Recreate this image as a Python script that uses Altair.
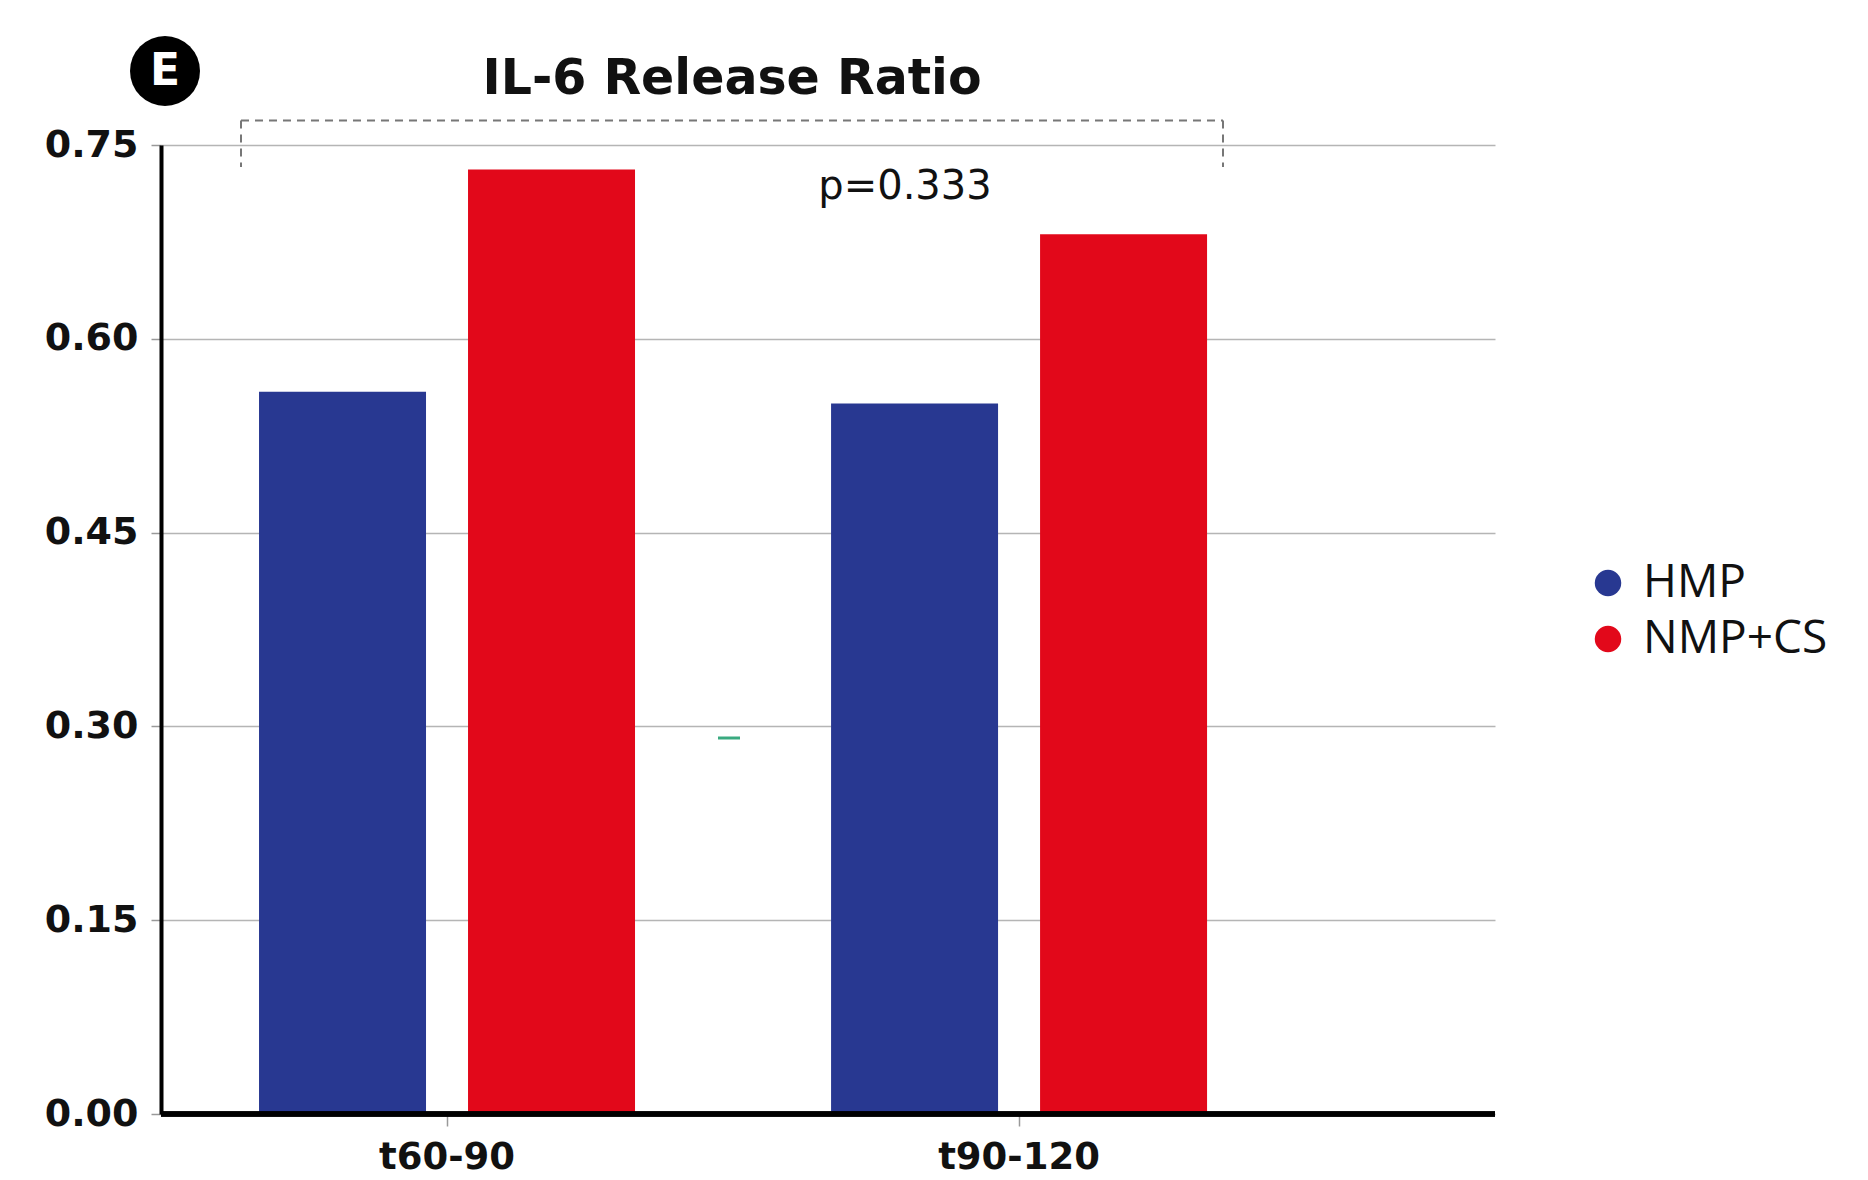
import altair as alt
import pandas as pd

categories = ["t60-90", "t90-120"]
groups = ["HMP", "NMP+CS"]
hmp_values = [0.559, 0.550]
nmp_values = [0.731, 0.681]
colors = ["#283891", "#e2081a"]
y_ticks = [0.0, 0.15, 0.30, 0.45, 0.60, 0.75]
p_label = "p=0.333"
title_text = "IL-6 Release Ratio"
badge_text = "E"

rows = []
for c, h, n in zip(categories, hmp_values, nmp_values):
    rows.append({"period": c, "group": groups[0], "ratio": h})
    rows.append({"period": c, "group": groups[1], "ratio": n})
df = pd.DataFrame(rows)

W, H = 1334, 969

x_scale = alt.Scale(domain=categories, paddingInner=0, paddingOuter=0.166, align=0)
y_scale = alt.Scale(domain=[0, 0.75], nice=False, zero=True)

bars = alt.Chart(df).mark_bar().encode(
    x=alt.X("period:N", scale=x_scale, sort=categories,
            axis=alt.Axis(title=None, labelAngle=0, labelFont="DejaVu Sans",
                          labelFontSize=37, labelFontWeight="bold", labelColor="#111",
                          tickColor="#999", tickSize=12, tickWidth=1.5,
                          labelPadding=13, domain=False, grid=False)),
    xOffset=alt.XOffset("group:N", sort=groups,
                        scale=alt.Scale(paddingInner=0.201, paddingOuter=0.469)),
    y=alt.Y("ratio:Q", scale=y_scale,
            axis=alt.Axis(title=None, values=y_ticks, format=".2f",
                          labelFont="DejaVu Sans", labelFontSize=38, labelFontWeight="bold",
                          labelColor="#111", tickColor="#999", tickSize=10, tickWidth=1.5,
                          labelPadding=13, domainColor="#000", domainWidth=4,
                          gridColor="#b5b5b5", gridWidth=1.5)),
    color=alt.Color("group:N", sort=groups,
                    scale=alt.Scale(domain=groups, range=colors),
                    legend=alt.Legend(title=None, orient="none", legendX=1424, legendY=415,
                                      symbolType="circle", symbolSize=700,
                                      symbolStrokeWidth=0, labelFont="Open Sans",
                                      labelFontSize=46, labelColor="#111", labelLimit=0,
                                      labelOffset=12, rowPadding=10, padding=0)),
)

xaxis_line = alt.Chart(df).mark_rule(color="#000", strokeWidth=5).encode(
    y=alt.datum(0), x=alt.value(0), x2=alt.value(W)
)

bracket_df = pd.DataFrame({"y": [0.769], "y2": [0.733]})
bracket_top = alt.Chart(bracket_df).mark_rule(color="#777", strokeWidth=2, strokeDash=[8, 6]).encode(
    y=alt.Y("y:Q", scale=y_scale), x=alt.value(80), x2=alt.value(1062)
)
bracket_l = alt.Chart(bracket_df).mark_rule(color="#777", strokeWidth=2, strokeDash=[8, 6]).encode(
    y=alt.Y("y:Q", scale=y_scale), y2="y2:Q", x=alt.value(80)
)
bracket_r = alt.Chart(bracket_df).mark_rule(color="#777", strokeWidth=2, strokeDash=[8, 6]).encode(
    y=alt.Y("y:Q", scale=y_scale), y2="y2:Q", x=alt.value(1062)
)

p_text = alt.Chart(pd.DataFrame({"t": [p_label], "y": [0.7175]})).mark_text(
    font="DejaVu Sans", fontSize=40, color="#111", baseline="middle", align="center"
).encode(text="t:N", y=alt.Y("y:Q", scale=y_scale), x=alt.value(744))

artifact = alt.Chart(pd.DataFrame({"a": [0]})).mark_rule(color="#3aaa80", strokeWidth=3).encode(
    x=alt.value(557), x2=alt.value(579), y=alt.value(593)
)

title = alt.Chart(pd.DataFrame({"t": [title_text]})).mark_text(
    font="DejaVu Sans", fontSize=49, fontWeight="bold", color="#111",
    baseline="middle", align="center"
).encode(text="t:N", x=alt.value(571), y=alt.value(-66))

badge = alt.Chart(pd.DataFrame({"t": [badge_text]})).mark_circle(
    color="#000", opacity=1, size=4900
).encode(x=alt.value(4), y=alt.value(-74))
badge_t = alt.Chart(pd.DataFrame({"t": [badge_text]})).mark_text(
    font="DejaVu Sans", fontSize=44, fontWeight="bold", color="#fff",
    baseline="middle", align="center"
).encode(text="t:N", x=alt.value(4), y=alt.value(-73))

chart = alt.layer(bars, xaxis_line, bracket_top, bracket_l, bracket_r, p_text, artifact,
                  title, badge, badge_t).properties(
    width=W, height=H,
    background="white",
    autosize=alt.AutoSizeParams(type="none"),
    padding={"left": 161, "top": 145, "right": 373, "bottom": 66},
).configure_view(stroke=None)

chart.save("out.html", embed_options={"renderer": "svg", "actions": False})
